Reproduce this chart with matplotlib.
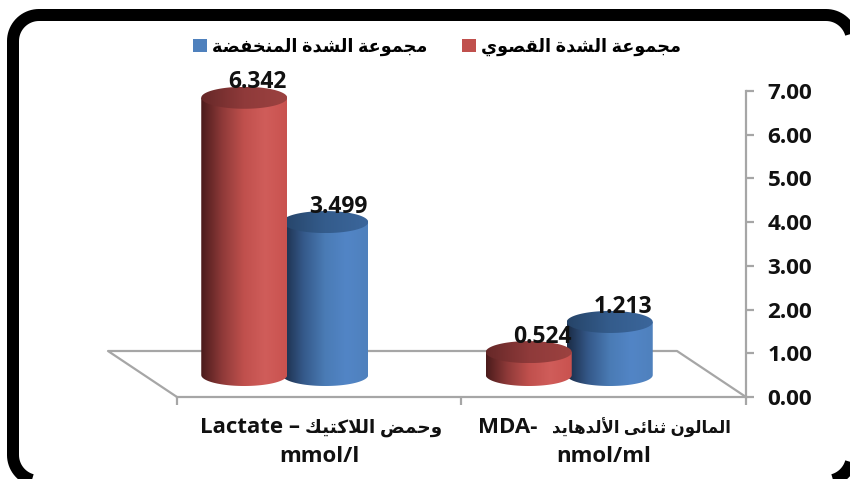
import numpy as np
import matplotlib
matplotlib.use("Agg")
import matplotlib.pyplot as plt
from matplotlib.colors import LinearSegmentedColormap
from matplotlib.patches import Patch, Polygon
from matplotlib.transforms import IdentityTransform

# datos
categorias = [0, 1]
cat_latin_1 = ["Lactate –", "MDA-"]
cat_lineas_2 = ["mmol/l", "nmol/ml"]
serie_severa = [6.342, 0.524]
serie_baja = [3.499, 1.213]
ticks_y = [0, 1, 2, 3, 4, 5, 6, 7]

# formas de presentacion: aislada, final, inicial, media
FORMAS = {
    "ا": "\uFE8D\uFE8E", "أ": "\uFE83\uFE84", "ة": "\uFE93\uFE94", "د": "\uFEA9\uFEAA",
    "و": "\uFEED\uFEEE", "ى": "\uFEEF\uFEF0",
    "ئ": "\uFE89\uFE8A\uFE8B\uFE8C", "ت": "\uFE95\uFE96\uFE97\uFE98", "ث": "\uFE99\uFE9A\uFE9B\uFE9C",
    "ج": "\uFE9D\uFE9E\uFE9F\uFEA0", "ح": "\uFEA1\uFEA2\uFEA3\uFEA4", "خ": "\uFEA5\uFEA6\uFEA7\uFEA8",
    "ش": "\uFEB5\uFEB6\uFEB7\uFEB8", "ص": "\uFEB9\uFEBA\uFEBB\uFEBC", "ض": "\uFEBD\uFEBE\uFEBF\uFEC0",
    "ع": "\uFEC9\uFECA\uFECB\uFECC", "ف": "\uFED1\uFED2\uFED3\uFED4", "ق": "\uFED5\uFED6\uFED7\uFED8",
    "ك": "\uFED9\uFEDA\uFEDB\uFEDC", "ل": "\uFEDD\uFEDE\uFEDF\uFEE0", "م": "\uFEE1\uFEE2\uFEE3\uFEE4",
    "ن": "\uFEE5\uFEE6\uFEE7\uFEE8", "ه": "\uFEE9\uFEEA\uFEEB\uFEEC", "ي": "\uFEF1\uFEF2\uFEF3\uFEF4",
}
LIGADURAS = {"ا": "\uFEFB\uFEFC", "أ": "\uFEF7\uFEF8"}


# matplotlib no une letras arabes, asi que se hace a mano
def arabe(texto):
    salida = []
    i = 0
    unida = False  # la letra anterior se une a la siguiente?
    while i < len(texto):
        c = texto[i]
        if c not in FORMAS:
            salida.append(c)
            unida = False
            i += 1
            continue
        if c == "ل" and i + 1 < len(texto) and texto[i + 1] in LIGADURAS:
            salida.append(LIGADURAS[texto[i + 1]][1 if unida else 0])
            unida = False
            i += 2
            continue
        f = FORMAS[c]
        sig = i + 1 < len(texto) and texto[i + 1] in FORMAS
        if len(f) == 2:
            salida.append(f[1 if unida else 0])
            unida = False
        else:
            if unida and sig:
                salida.append(f[3])
            elif unida:
                salida.append(f[1])
            elif sig:
                salida.append(f[2])
            else:
                salida.append(f[0])
            unida = sig
        i += 1
    return "".join(salida[::-1])


nombre_severa = arabe("مجموعة الشدة القصوي")
nombre_baja = arabe("مجموعة الشدة المنخفضة")
cat_arabe_1 = [arabe("وحمض اللاكتيك"), arabe("المالون ثنائى الألدهايد")]

FUENTE = ["Open Sans", "DejaVu Sans"]
plt.rcParams["font.family"] = FUENTE
plt.rcParams["font.weight"] = "bold"

W, H = 850, 479
fig = plt.figure(figsize=(W / 100, H / 100), dpi=100, facecolor="white")
ax = fig.add_axes([0, 0, 1, 1])
ax.set_facecolor("none")

# escala: cat -0.5..1.5 -> px 177..746 ; valor 0..7 -> px 397..91
px_x = (746 - 177) / 2
px_y = (397 - 91) / 7
xlim = (-0.5 - 177 / px_x, -0.5 + (W - 177) / px_x)
ylim = (-(H - 397) / px_y, 397 / px_y)

# suelo en perspectiva
prof_x = -69 / px_x
prof_y = 46 / px_y
gris = "#a6a6a6"
ax.plot([-0.5, -0.5 + prof_x, 1.5 + prof_x, 1.5], [0, prof_y, prof_y, 0], color=gris, lw=1.6, zorder=1)

# cilindros
medio_ancho = 43 / px_x
medio_alto = 11 / px_y
base = 22 / px_y
desp_severa = -75 / px_x
desp_baja = 6 / px_x

rojos = LinearSegmentedColormap.from_list("r", ["#4a1b1b", "#8f3a39", "#c0504d", "#d05d5a", "#c9524f"])
azules = LinearSegmentedColormap.from_list("b", ["#1a2b45", "#35598a", "#4a7bb5", "#5285c6", "#4f81bd"])
rojos_tapa = LinearSegmentedColormap.from_list("rt", ["#662828", "#8f3a3a", "#9c4240"])
azules_tapa = LinearSegmentedColormap.from_list("bt", ["#264468", "#345c8c", "#3b669b"])
gradiente = np.linspace(0, 1, 256).reshape(1, -1)


def cilindro(cx, valor, cmap, cmap_tapa, z):
    tope = base + valor
    t = np.linspace(np.pi, 2 * np.pi, 60)
    xs = cx + medio_ancho * np.cos(t)
    ys = base + medio_alto * np.sin(t)
    lado = np.vstack([[[cx - medio_ancho, tope]], np.column_stack([xs, ys]), [[cx + medio_ancho, tope]]])
    p = Polygon(lado, closed=True, fc="none", ec="none", zorder=z)
    ax.add_patch(p)
    im = ax.imshow(gradiente, cmap=cmap, aspect="auto", zorder=z, interpolation="bilinear",
                   extent=(cx - medio_ancho, cx + medio_ancho, base - medio_alto, tope))
    im.set_clip_path(p)
    t = np.linspace(0, 2 * np.pi, 120)
    tapa = Polygon(np.column_stack([cx + medio_ancho * np.cos(t), tope + medio_alto * np.sin(t)]),
                   closed=True, fc="none", ec="none", zorder=z + 0.1)
    ax.add_patch(tapa)
    im2 = ax.imshow(gradiente, cmap=cmap_tapa, aspect="auto", zorder=z + 0.1, interpolation="bilinear",
                    extent=(cx - medio_ancho, cx + medio_ancho, tope - medio_alto, tope + medio_alto))
    im2.set_clip_path(tapa)
    ax.annotate(f"{valor:.3f}", (cx, tope), xytext=(9.5, 11), textcoords="offset points", ha="center",
                va="center", fontsize=16.5, fontweight="bold", color="#111111", zorder=10)


for c, v_s, v_b in zip(categorias, serie_severa, serie_baja):
    cilindro(c + desp_baja, v_b, azules, azules_tapa, 3)
    cilindro(c + desp_severa, v_s, rojos, rojos_tapa, 4)

# ejes
ax.set_xlim(xlim)
ax.set_ylim(ylim)
for s in ["top", "left"]:
    ax.spines[s].set_visible(False)
ax.spines["right"].set_position(("data", 1.5))
ax.spines["right"].set_bounds(0, 7)
ax.spines["bottom"].set_position(("data", 0))
ax.spines["bottom"].set_bounds(-0.5, 1.5)
for s in ["right", "bottom"]:
    ax.spines[s].set_color(gris)
    ax.spines[s].set_linewidth(1.6)
ax.yaxis.tick_right()
ax.set_yticks(ticks_y)
ax.set_yticklabels([f"{v:.2f}" for v in ticks_y], fontsize=16.2, fontweight="bold", color="#111111")
ax.tick_params(axis="y", direction="out", length=5.5, width=1.6, color=gris, pad=10)
ax.set_xticks([-0.5, 0.5, 1.5])
ax.set_xticklabels(["", "", ""])
ax.tick_params(axis="x", direction="out", length=5.5, width=1.6, color=gris)

# etiquetas de categoria: latin a la izquierda, arabe a la derecha, unidad debajo
fin_latin = [-13.7, -47.5]
ini_arabe = [-10, -37.5]
tam_arabe = [13.2, 12]
for c, lat, ar, l2, dl, da, tam in zip(categorias, cat_latin_1, cat_arabe_1, cat_lineas_2, fin_latin, ini_arabe, tam_arabe):
    ax.annotate(lat, (c, 0), xytext=(dl, -22), textcoords="offset points", ha="right", va="center",
                fontsize=16, fontweight="bold", color="#111111")
    ax.annotate(ar, (c, 0), xytext=(da, -22), textcoords="offset points", ha="left", va="center",
                fontsize=tam, fontweight="bold", color="#111111")
    ax.annotate(l2, (c, 0), xytext=(0, -43), textcoords="offset points", ha="center", va="center",
                fontsize=16, fontweight="bold", color="#111111")

# leyenda
h = [Patch(fc="#4f81bd", ec="none", label=nombre_baja), Patch(fc="#c0504d", ec="none", label=nombre_severa)]
leg = ax.legend(handles=h, ncol=2, loc="center", bbox_to_anchor=(437 / W, 1 - 47 / H), frameon=False,
                prop={"size": 12.7, "weight": "bold", "family": FUENTE}, handlelength=0.8, handleheight=0.8,
                handletextpad=0.25, columnspacing=2.0, borderpad=0)

# marco negro redondeado, en pixeles
x0, x1, y0, y1 = 13, 852, H - 481, H - 15
r = 26
tramos = []
for cx, cy, a in [(x1 - r, y1 - r, 0), (x0 + r, y1 - r, 90), (x0 + r, y0 + r, 180), (x1 - r, y0 + r, 270)]:
    ang = np.radians(np.linspace(a, a + 90, 20))
    tramos.append(np.column_stack([cx + r * np.cos(ang), cy + r * np.sin(ang)]))
marco = Polygon(np.vstack(tramos), closed=True, fc="none", ec="black", lw=12 * 0.72,
                transform=IdentityTransform(), zorder=20)
fig.add_artist(marco)

fig.savefig("out.png", dpi=100, facecolor="white")
